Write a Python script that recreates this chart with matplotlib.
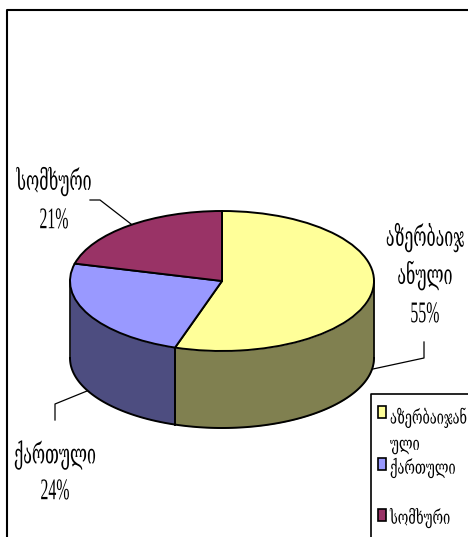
import matplotlib
matplotlib.use("Agg")
import matplotlib.pyplot as plt
from matplotlib.patches import Rectangle
from matplotlib.patheffects import AbstractPathEffect
from matplotlib.transforms import Affine2D
import numpy as np

# pie data
categories = ["აზერბაიჯანული", "ქართული", "სომხური"]
shares = [55, 24, 21]
top_colors = ["#FFFF99", "#9999FF", "#993366"]
wall_colors = ["#808050", "#4D4D80", "#4D1A33"]
pie_labels = ["აზერბაიჯ\nანული", "ქართული", "სომხური"]
pct_labels = ["55%", "24%", "21%"]
legend_labels = ["აზერბაიჯან\nული", "ქართული", "სომხური"]

W, H = 468, 537
CX, CY, RX, RY, DEPTH = 222, 281, 152, 70, 77
GEO = ["DejaVu Serif", "DejaVu Sans"]
PCT = "Liberation Serif"


def px(x, y):  # pixel position -> pie data coords
    return (x - CX) / RX, (CY - y) / RY


class Stretch(AbstractPathEffect):  # the original font is tall and narrow, nothing installed is
    def __init__(self, x, y, sx, sy):
        super().__init__()
        self.x0, self.y0, self.sx, self.sy = x, H - y, sx, sy

    def draw_path(self, renderer, gc, tpath, affine, rgbFace=None):
        t = affine + Affine2D().translate(-self.x0, -self.y0).scale(self.sx, self.sy).translate(self.x0, self.y0)
        renderer.draw_path(gc, tpath, t, rgbFace)


fig = plt.figure(figsize=(W / 100, H / 100), dpi=100)
ax = fig.add_axes([0, 0, 1, 1])

# top of the pie, the unit circle gets squashed because of the limits below
wedges, _ = ax.pie(shares, colors=top_colors, startangle=90, counterclock=False, radius=1,
                   wedgeprops=dict(edgecolor="black", linewidth=1.4))
for w in wedges:
    w.set_zorder(3)
ax.set_aspect("auto")
ax.set_xlim(-CX / RX, (W - CX) / RX)
ax.set_ylim((CY - H) / RY, CY / RY)
ax.axis("off")

# side wall, only the front half is visible
d = DEPTH / RY
edges = np.cumsum([0] + shares) / 100 * 2 * np.pi
for i in range(len(shares)):
    lo, hi = max(edges[i], np.pi / 2), min(edges[i + 1], 3 * np.pi / 2)
    if lo >= hi:
        continue
    t = np.linspace(lo, hi, 80)
    xs = np.sin(t)
    ys = np.cos(t)
    ax.fill_between(xs, ys - d, ys, color=wall_colors[i], lw=0, zorder=1)
    ax.plot(xs, ys - d, color="black", lw=1.4, zorder=2)
    for a in (lo, hi):
        ax.plot([np.sin(a)] * 2, [np.cos(a), np.cos(a) - d], color="black", lw=1.2, zorder=2)

# frame of the chart area
xy = [px(468, 10), px(7, 10), px(7, 537)]
ax.plot(*zip(*xy), color="black", lw=1.5, zorder=5, clip_on=False)

# leader lines
leaders = [
    [(373, 369), (424, 358), (424, 342)],
    [(87, 391), (55, 404), (55, 420)],
    [(90, 200), (100, 200), (131, 224)],
]
for line in leaders:
    ax.plot(*zip(*[px(x, y) for x, y in line]), color="black", lw=0.9, zorder=4)

# data labels
name_pos = [(425, 257), (55, 455), (54, 182)]
pct_pos = [(425, 315), (55, 492), (54, 221)]
for i in range(3):
    ax.text(*px(*name_pos[i]), pie_labels[i], family=GEO, fontsize=11.5,
            ha="center", va="center", linespacing=1.3, color="black",
            path_effects=[Stretch(*name_pos[i], 1.0, 1.74)])
    ax.text(*px(*pct_pos[i]), pct_labels[i], family=PCT, fontsize=12,
            ha="center", va="center", color="black",
            path_effects=[Stretch(*pct_pos[i], 0.95, 1.8)])

# legend box
xy = [px(468, 394), px(371, 394), px(371, 537)]
ax.plot(*zip(*xy), color="black", lw=1.2, zorder=5, clip_on=False)
marker_y = [412, 464, 515]
text_y = [431, 468, 518]
for i in range(3):
    x0, y0 = px(378, marker_y[i] + 6)
    x1, y1 = px(386, marker_y[i] - 6)
    ax.add_patch(Rectangle((x0, y0), x1 - x0, y1 - y0, facecolor=top_colors[i],
                           edgecolor="black", lw=1.2, zorder=6))
    ax.text(*px(390, text_y[i]), legend_labels[i], family=GEO, fontsize=9.2,
            ha="left", va="center", linespacing=1.45, color="black",
            path_effects=[Stretch(390, text_y[i], 1.0, 1.5)])

fig.savefig("out.png", dpi=100)
